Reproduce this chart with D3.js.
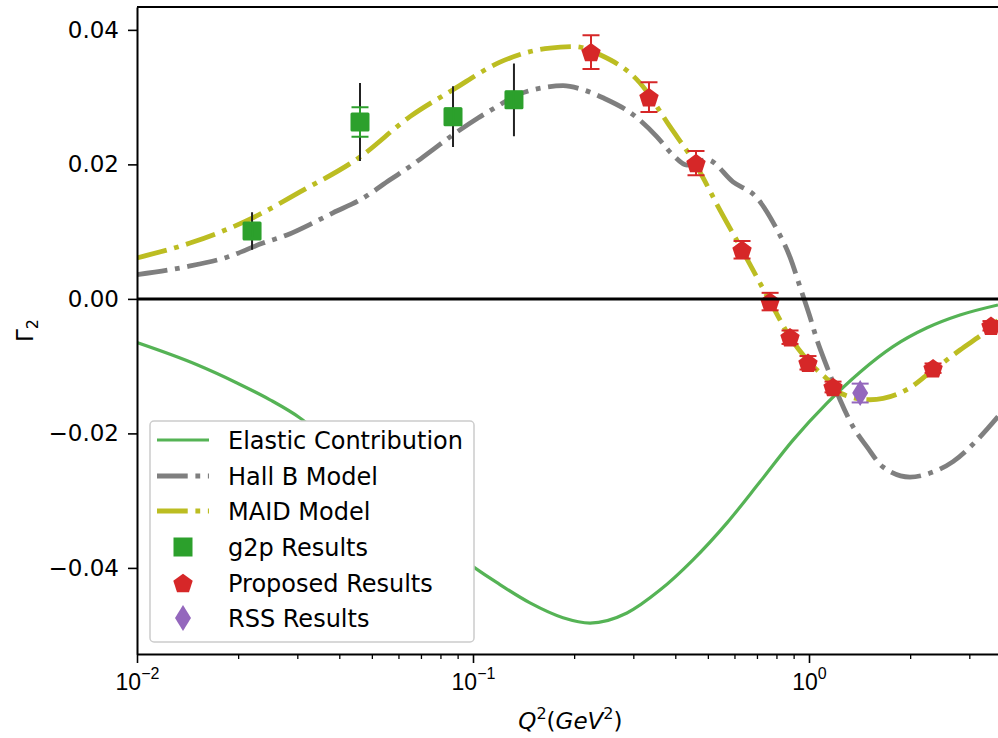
<!DOCTYPE html>
<html>
<head>
<meta charset="utf-8">
<script src="https://cdn.jsdelivr.net/npm/d3@7"></script>
<style>
  body { margin: 0; background: #fff; }
  svg { font-family: "DejaVu Sans", sans-serif; }
</style>
</head>
<body>
<div class="chart"></div>
<script>
// --- data ---
// elastic contribution (solid green)
var elasticQ = [0.0100, 0.01509, 0.01984, 0.02488, 0.03056, 0.0402, 0.0528, 0.0695, 0.0854, 0.1000, 0.1179, 0.1478, 0.1853, 0.2230, 0.2872, 0.3601, 0.4516, 0.5702, 0.7148, 0.8962, 1.131, 1.418, 1.778, 2.245, 2.814, 3.652];
var elasticG = [-0.0065, -0.0098, -0.0125, -0.0150, -0.0177, -0.0228, -0.0283, -0.0336, -0.0373, -0.0398, -0.0422, -0.0452, -0.0474, -0.0482, -0.0467, -0.0433, -0.0388, -0.0333, -0.0272, -0.0210, -0.0155, -0.0109, -0.0071, -0.0043, -0.0024, -0.0009];

// Hall B model (grey dash-dot)
var hallbQ = [0.0100, 0.01409, 0.01853, 0.02371, 0.02795, 0.03341, 0.03832, 0.04609, 0.05662, 0.06585, 0.07603, 0.0872, 0.1035, 0.1179, 0.1352, 0.1661, 0.1853, 0.2125, 0.2437, 0.2994, 0.3529, 0.3937, 0.4334, 0.4970, 0.5939, 0.7003, 0.8030, 0.878, 0.9402, 1.007, 1.056, 1.131, 1.237, 1.352, 1.488, 1.661, 1.998, 2.292, 2.683, 3.162, 3.652];
var hallbG = [0.0036, 0.0048, 0.0062, 0.0083, 0.0095, 0.0113, 0.0128, 0.0147, 0.0177, 0.0199, 0.0222, 0.0244, 0.0269, 0.0286, 0.0303, 0.0315, 0.0317, 0.0311, 0.0299, 0.0274, 0.0241, 0.0214, 0.0199, 0.0207, 0.0174, 0.0150, 0.0103, 0.0062, 0.0018, -0.0027, -0.0061, -0.0101, -0.0150, -0.0190, -0.0220, -0.0250, -0.0265, -0.0259, -0.0242, -0.0210, -0.0175];

// MAID model (olive dash-dot)
var maidQ = [0.0100, 0.01438, 0.0220, 0.03056, 0.04609, 0.0649, 0.0872, 0.1203, 0.1695, 0.2012, 0.2388, 0.3141, 0.3858, 0.461, 0.5433, 0.632, 0.766, 0.878, 0.993, 1.179, 1.237, 1.519, 1.998, 2.245, 2.814, 3.48, 3.652];
var maidG = [0.0061, 0.0083, 0.0120, 0.0159, 0.0211, 0.0271, 0.0311, 0.0352, 0.0373, 0.0375, 0.0363, 0.0321, 0.0256, 0.0199, 0.0132, 0.0073, -0.0004, -0.0057, -0.0092, -0.0128, -0.0140, -0.0150, -0.0132, -0.0113, -0.0076, -0.0042, -0.0032];

// g2p results
var g2pQ = [0.0220, 0.0461, 0.0872, 0.1324];
var g2pG = [0.0101, 0.0263, 0.0271, 0.0296];
var g2pStat = [0.0010, 0.0022, 0.0012, 0.0012];
var g2pSys = [0.0028, 0.0058, 0.0045, 0.0054];

// proposed results
var propQ = [0.2245, 0.334, 0.461, 0.632, 0.766, 0.878, 0.993, 1.179, 2.34, 3.48];
var propG = [0.0367, 0.0300, 0.0202, 0.0073, -0.0004, -0.0057, -0.0095, -0.0131, -0.0103, -0.0040];
var propErr = [0.0025, 0.0022, 0.0018, 0.0013, 0.0013, 0.0010, 0.0010, 0.0008, 0.0007, 0.0007];

// RSS results
var rssQ = [1.42];
var rssG = [-0.0140];
var rssErr = [0.0014];

var yTicks = [-0.04, -0.02, 0.00, 0.02, 0.04];
var xMajor = [0.01, 0.1, 1];
var xExp = ['\u22122', '\u22121', '0'];
var legendLabels = ['Elastic Contribution', 'Hall B Model', 'MAID Model', 'g2p Results', 'Proposed Results', 'RSS Results'];

var width = 998, height = 738;
var plotLeft = 137, plotTop = 7, plotBottom = 654;
var plotRight = plotLeft + 336 * Math.log10(3.8 / 0.01);

var cGreenLine = '#55b355', cGrey = '#7f7f7f', cOlive = '#bcbd22',
    cGreen = '#2ca02c', cRed = '#d62728', cPurple = '#9467bd';

function zip(a, b) { return a.map(function(d, i){ return {q: d, g: b[i]}; }); }

var svg = d3.select('.chart')
    .append('svg')
    .attr('width', width)
    .attr('height', height);

svg.append('rect').attr('width', width).attr('height', height).attr('fill', '#fff');

var x = d3.scaleLog().domain([0.01, 3.8]).range([plotLeft, plotRight]);
var y = d3.scaleLinear().domain([-0.0528, 0.0434]).range([plotBottom, plotTop]);

svg.append('clipPath').attr('id', 'plotclip')
    .append('rect').attr('x', plotLeft).attr('y', plotTop)
    .attr('width', plotRight - plotLeft).attr('height', plotBottom - plotTop);

var plot = svg.append('g').attr('clip-path', 'url(#plotclip)');

var line = d3.line()
    .x(function(d){ return x(d.q); })
    .y(function(d){ return y(d.g); })
    .curve(d3.curveMonotoneX);

var lw = 4.8;
var dashDot = [6.4 * lw, 1.6 * lw, lw, 1.6 * lw].join(',');

plot.append('path').datum(zip(elasticQ, elasticG))
    .attr('d', line).attr('fill', 'none')
    .attr('stroke', cGreenLine).attr('stroke-width', 3.2);

plot.append('path').datum(zip(hallbQ, hallbG))
    .attr('d', line).attr('fill', 'none')
    .attr('stroke', cGrey).attr('stroke-width', lw)
    .attr('stroke-dasharray', dashDot);

plot.append('path').datum(zip(maidQ, maidG))
    .attr('d', line).attr('fill', 'none')
    .attr('stroke', cOlive).attr('stroke-width', lw)
    .attr('stroke-dasharray', dashDot);

// error bar helper
function errBars(g, qs, vals, errs, color, cap) {
    var sel = g.selectAll(null).data(qs.map(function(q, i){ return {q: q, g: vals[i], e: errs[i]}; }))
        .enter().append('g');
    sel.append('line')
        .attr('x1', function(d){ return x(d.q); }).attr('x2', function(d){ return x(d.q); })
        .attr('y1', function(d){ return y(d.g - d.e); }).attr('y2', function(d){ return y(d.g + d.e); })
        .attr('stroke', color).attr('stroke-width', 2);
    if (cap) {
        [-1, 1].forEach(function(s){
            sel.append('line')
                .attr('x1', function(d){ return x(d.q) - cap; }).attr('x2', function(d){ return x(d.q) + cap; })
                .attr('y1', function(d){ return y(d.g + s * d.e); }).attr('y2', function(d){ return y(d.g + s * d.e); })
                .attr('stroke', color).attr('stroke-width', 2);
        });
    }
}

function pentagon(r) {
    var pts = d3.range(5).map(function(i){
        var a = -Math.PI / 2 + i * 2 * Math.PI / 5;
        return [r * Math.cos(a), r * Math.sin(a) + r * 0.1];
    });
    return 'M' + pts.join('L') + 'Z';
}
function thinDiamond(w, h) {
    return 'M0,' + (-h) + 'L' + w + ',0L0,' + h + 'L' + (-w) + ',0Z';
}

// g2p: systematic (black) then statistical (green, capped)
errBars(plot, g2pQ, g2pG, g2pSys, '#222', 0);
plot.selectAll('.g2p').data(zip(g2pQ, g2pG)).enter()
    .append('rect').attr('class', 'g2p')
    .attr('x', function(d){ return x(d.q) - 9.5; })
    .attr('y', function(d){ return y(d.g) - 9.5; })
    .attr('width', 19).attr('height', 19).attr('rx', 1.5)
    .attr('fill', cGreen);
errBars(plot, g2pQ, g2pG, g2pStat, cGreen, 8.5);

// proposed
errBars(plot, propQ, propG, propErr, cRed, 8.5);
plot.selectAll('.prop').data(zip(propQ, propG)).enter()
    .append('path').attr('class', 'prop')
    .attr('transform', function(d){ return 'translate(' + x(d.q) + ',' + y(d.g) + ')'; })
    .attr('d', pentagon(10.2))
    .attr('fill', cRed);

// RSS
errBars(plot, rssQ, rssG, rssErr, cPurple, 8.5);
plot.selectAll('.rss').data(zip(rssQ, rssG)).enter()
    .append('path').attr('class', 'rss')
    .attr('transform', function(d){ return 'translate(' + x(d.q) + ',' + y(d.g) + ')'; })
    .attr('d', thinDiamond(8, 13))
    .attr('fill', cPurple);

// zero line
plot.append('line')
    .attr('x1', plotLeft).attr('x2', plotRight)
    .attr('y1', y(0)).attr('y2', y(0))
    .attr('stroke', '#000').attr('stroke-width', 3);

// AXES
var yAxis = d3.axisLeft(y)
    .tickValues(yTicks)
    .tickSizeInner(9).tickSizeOuter(0).tickPadding(9)
    .tickFormat(d3.format('.2f'));
var gy = svg.append('g')
    .attr('transform', 'translate(' + plotLeft + ',0)')
    .call(yAxis);
gy.selectAll('text').attr('font-size', 23).attr('fill', '#000').style('font-family', 'DejaVu Sans');
gy.selectAll('line').attr('stroke-width', 1.6);
gy.select('.domain').attr('stroke-width', 2);

var minors = [];
[0.01, 0.1, 1].forEach(function(dec){
    for (var k = 2; k <= 9; k++) { if (dec * k <= 3.8) minors.push(dec * k); }
});
var gxMinor = svg.append('g')
    .attr('transform', 'translate(0,' + plotBottom + ')')
    .call(d3.axisBottom(x).tickValues(minors).tickSizeInner(5).tickSizeOuter(0).tickFormat(''));
gxMinor.select('.domain').remove();
gxMinor.selectAll('line').attr('stroke-width', 1.3);

var gx = svg.append('g')
    .attr('transform', 'translate(0,' + plotBottom + ')')
    .call(d3.axisBottom(x).tickValues(xMajor).tickSizeInner(9).tickSizeOuter(0).tickFormat(''));
gx.select('.domain').attr('stroke-width', 2);
gx.selectAll('line').attr('stroke-width', 1.6);
gx.selectAll('.tick').each(function(d, i){
    var t = d3.select(this).append('text')
        .attr('y', 36).attr('fill', '#000')
        .attr('font-size', 23).attr('text-anchor', 'middle');
    t.append('tspan').text('10');
    t.append('tspan').attr('font-size', 16).attr('dy', -11).text(xExp[i]);
});

// top spine
svg.append('line')
    .attr('x1', plotLeft).attr('x2', plotRight)
    .attr('y1', plotTop).attr('y2', plotTop)
    .attr('stroke', '#000').attr('stroke-width', 2);

// x label
var xl = svg.append('text')
    .attr('x', (plotLeft + plotRight) / 2).attr('y', 729)
    .attr('text-anchor', 'middle').attr('font-size', 23);
xl.append('tspan').attr('font-style', 'italic').text('Q');
xl.append('tspan').attr('font-size', 16).attr('dy', -10).text('2');
xl.append('tspan').attr('dy', 10).text('(');
xl.append('tspan').attr('font-style', 'italic').text('GeV');
xl.append('tspan').attr('font-size', 16).attr('dy', -10).text('2');
xl.append('tspan').attr('dy', 10).text(')');

// y label
var yl = svg.append('text')
    .attr('transform', 'translate(33,' + ((plotTop + plotBottom) / 2) + ') rotate(-90)')
    .attr('text-anchor', 'middle').attr('font-size', 23);
yl.append('tspan').text('\u0393');
yl.append('tspan').attr('font-size', 16).attr('dy', 5).text('2');

// LEGEND
var lg = svg.append('g');
lg.append('rect')
    .attr('x', 150).attr('y', 421).attr('width', 324).attr('height', 221)
    .attr('rx', 4).attr('fill', '#fff')
    .attr('stroke', '#cccccc').attr('stroke-width', 1.5);

var rowY = [440, 476, 511, 547, 583, 618];
lg.selectAll('.lab').data(legendLabels).enter()
    .append('text').attr('class', 'lab')
    .attr('x', 228).attr('y', function(d, i){ return rowY[i]; })
    .attr('dy', '0.36em').attr('font-size', 24).attr('fill', '#000')
    .text(function(d){ return d; });

lg.append('line').attr('x1', 157).attr('x2', 209).attr('y1', rowY[0]).attr('y2', rowY[0])
    .attr('stroke', cGreenLine).attr('stroke-width', 3.2);
lg.append('line').attr('x1', 157).attr('x2', 209).attr('y1', rowY[1]).attr('y2', rowY[1])
    .attr('stroke', cGrey).attr('stroke-width', lw).attr('stroke-dasharray', dashDot);
lg.append('line').attr('x1', 157).attr('x2', 209).attr('y1', rowY[2]).attr('y2', rowY[2])
    .attr('stroke', cOlive).attr('stroke-width', lw).attr('stroke-dasharray', dashDot);
lg.append('rect').attr('x', 183 - 9.5).attr('y', rowY[3] - 9.5).attr('width', 19).attr('height', 19)
    .attr('fill', cGreen);
lg.append('path').attr('transform', 'translate(183,' + rowY[4] + ')')
    .attr('d', pentagon(10.2)).attr('fill', cRed);
lg.append('path').attr('transform', 'translate(183,' + rowY[5] + ')')
    .attr('d', thinDiamond(8, 13)).attr('fill', cPurple);
</script>
</body>
</html>
